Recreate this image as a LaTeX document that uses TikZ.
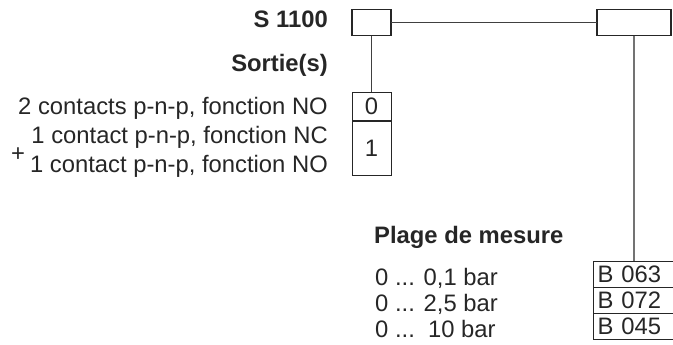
\documentclass[tikz,border=0pt]{standalone}
\usepackage{fontspec}
\setmainfont{Liberation Sans}
\begin{document}
\begin{tikzpicture}[x=1pt,y=-1pt,
  lbl/.style={inner sep=0pt,font=\fontsize{23.8}{26}\selectfont,text=black!85},
  blbl/.style={lbl,font=\fontsize{23.8}{26}\selectfont\bfseries},
  hbox/.style={draw=black!85,line width=1.8pt},
  cbox/.style={draw=black!85,line width=1pt},
  conn/.style={draw=black!75,line width=1.2pt}]
\useasboundingbox (0,0) rectangle (673,345);
% header boxes
\path[hbox] (352,9.5) rectangle (391,35.5);
\node[inner sep=0pt,minimum width=39pt,minimum height=26pt] (b1) at (371.5,22.5) {};
\node[inner sep=0pt,minimum width=74pt,minimum height=26pt] (b2) at (634,22.5) {};
\path[hbox] (597,9.5) rectangle (671,35.5);
% output boxes
\node[cbox,lbl,minimum width=39pt,minimum height=27.5pt,anchor=north] (o0) at (371.5,92.5) {0};
\node[cbox,lbl,minimum width=39pt,minimum height=54pt,anchor=north] (o1) at (371.5,121) {1};
% range boxes
\node[cbox,lbl,minimum width=84pt,minimum height=26pt,anchor=north west,text width=76pt,align=left,inner xsep=4pt] (r1) at (593,261) {B 063};
\node[cbox,lbl,minimum width=84pt,minimum height=26pt,anchor=north west,text width=76pt,align=left,inner xsep=4pt] (r2) at (593,287) {B 072};
\node[cbox,lbl,minimum width=84pt,minimum height=26pt,anchor=north west,text width=76pt,align=left,inner xsep=4pt] (r3) at (593,313) {B 045};
% connectors
\draw[conn] (b1.east) -- (b2.west);
\draw[conn] (b1.south) -- (o0.north);
\draw[conn,draw=black!55] (b2.south) -- (r1.north -| b2.south);
% labels
\node[blbl,anchor=base east] (t1) at (328,28) {S 1100};
\node[blbl,anchor=base east] (t2) at (328,72) {Sortie(s)};
\node[lbl,anchor=base east] (t3) at (328,115) {2 contacts p-n-p, fonction NO};
\node[lbl,anchor=base east] (t4) at (328,143) {1 contact p-n-p, fonction NC};
\node[lbl,anchor=base east] (t5) at (328,172) {1 contact p-n-p, fonction NO};
\node[lbl] (plus) at (18,155) {+};
\node[blbl,anchor=base west] (t6) at (374,243) {Plage de mesure};
\node[lbl,anchor=base west] (t7) at (375,285) {0 ... 0,1 bar};
\node[lbl,anchor=base west] (t8) at (375,311) {0 ... 2,5 bar};
\node[lbl,anchor=base west] (t9) at (375,337) {0 ...\ \ 10 bar};
\end{tikzpicture}
\end{document}
